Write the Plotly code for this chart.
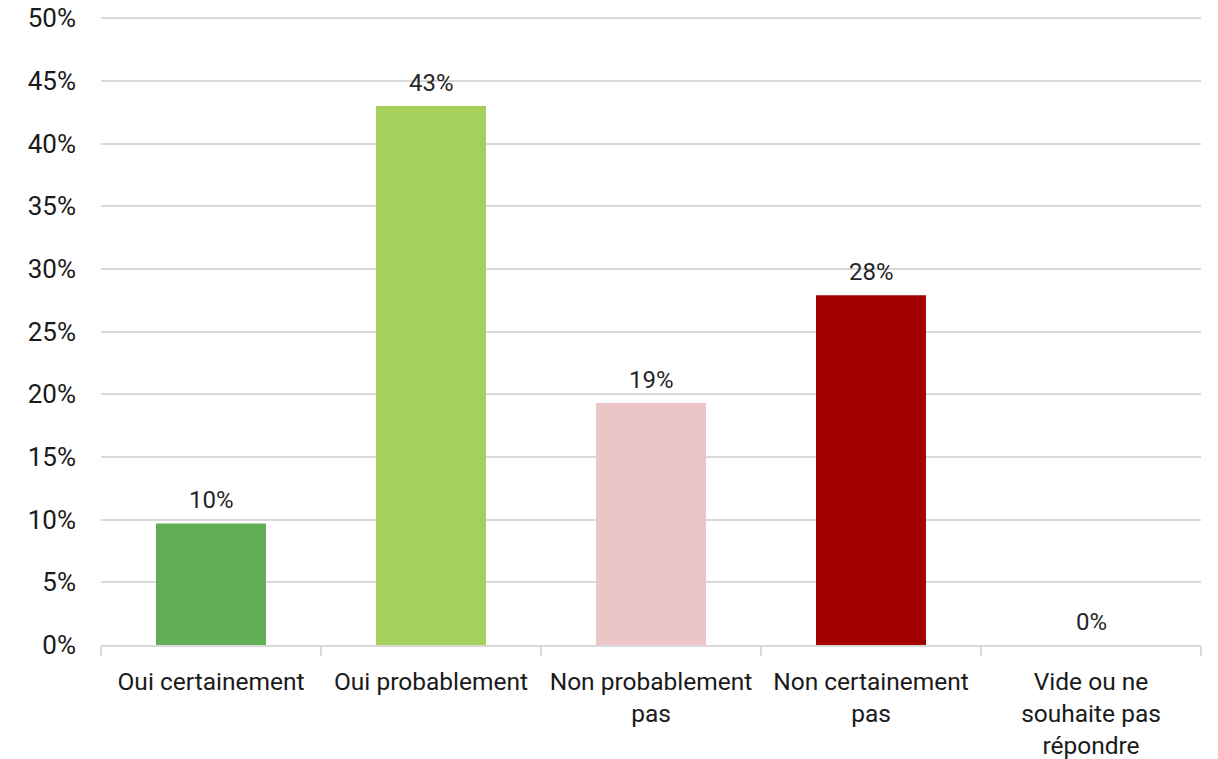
import plotly.graph_objects as go

categories = ["Oui certainement", "Oui probablement", "Non probablement<br>pas",
              "Non certainement<br>pas", "Vide ou ne<br>souhaite pas<br>répondre"]
values = [9.7, 43.0, 19.3, 27.9, 0.0]
colors = ["#62AE56", "#A6D05C", "#ECC6C6", "#A50000", "#A50000"]
y_ticks = [0, 5, 10, 15, 20, 25, 30, 35, 40, 45, 50]
y_tick_labels = [f"{t}%" for t in y_ticks]
labels = [f"{round(v)}%" for v in values]

FONT = "Roboto"
fig = go.Figure()
fig.add_trace(go.Bar(x=categories, y=values, marker=dict(color=colors, line=dict(width=0)),
                     width=0.5, hoverinfo="skip"))

for c, v, t in zip(categories, values, labels):
    fig.add_annotation(x=c, y=v, text=t, showarrow=False, yanchor="bottom", yshift=7,
                       font=dict(family=FONT, size=24, color="#262626"))

fig.update_layout(
    width=1218, height=759,
    margin=dict(l=101, r=17, t=17, b=114),
    plot_bgcolor="white", paper_bgcolor="white",
    showlegend=False, bargap=0.5,
    font=dict(family=FONT, size=25, color="#1a1a1a"),
)
fig.update_yaxes(range=[0, 50.1], tickvals=y_ticks, ticktext=y_tick_labels,
                 showgrid=True, gridcolor="#d9d9d9", gridwidth=1.5, automargin=False,
                 zeroline=False, showline=False, ticks="", ticklabelstandoff=24,
                 tickfont=dict(family=FONT, size=26, color="#1a1a1a"))
fig.update_xaxes(showline=True, linecolor="#d9d9d9", linewidth=1.5, automargin=False,
                 ticks="outside", tickson="boundaries", ticklen=9, tickcolor="#d9d9d9",
                 tickwidth=1.5, tickfont=dict(family=FONT, size=24.5, color="#1a1a1a"),
                 ticklabelstandoff=14)

fig.write_html("out.html", config={"displayModeBar": False},
               post_script="document.body.style.margin='0';")
